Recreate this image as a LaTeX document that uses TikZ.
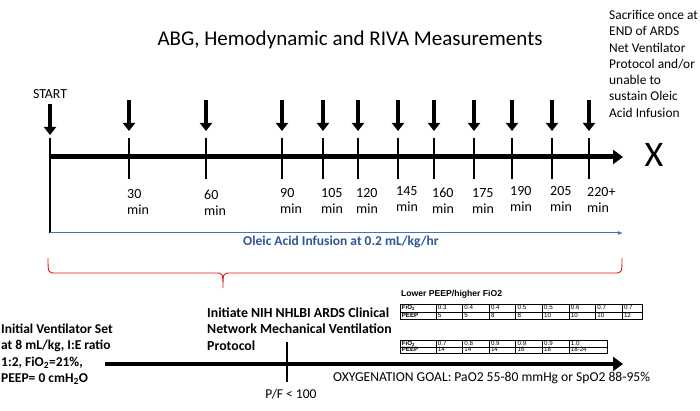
\documentclass[tikz,border=0pt]{standalone}
\usepackage{fontspec}
\setmainfont{Carlito}
\newfontfamily\tabfont{Liberation Sans}
\usetikzlibrary{arrows.meta,positioning,matrix,calc}
\definecolor{infblue}{RGB}{68,114,196}
\definecolor{infdark}{RGB}{47,85,151}
\definecolor{bracered}{RGB}{225,20,20}

\tikzset{
  timemark/.style={line width=4pt,-{Triangle[width=12pt,length=8pt]}},
  tickline/.style={line width=2pt},
  ticklabel/.style={font=\fontsize{14}{16}\selectfont, align=left, anchor=north west, inner sep=0pt},
  boldtext/.style={font=\bfseries\fontsize{13.5}{16.2}\selectfont, align=left, inner sep=0pt},
  cell/.style={draw, line width=0.6pt, font=\tabfont\fontsize{6.2}{7}\selectfont, inner xsep=2pt, text width=22.6pt, text height=4.6pt, text depth=1.2pt, align=left},
}

\begin{document}
\begin{tikzpicture}[x=1pt,y=-1pt]
  \useasboundingbox (0,0) rectangle (700,411);

  \node[anchor=base, font=\fontsize{21}{24}\selectfont] at (350,46) (title) {ABG, Hemodynamic and RIVA Measurements};
  \node[anchor=north west, inner sep=0pt, align=left, font=\fontsize{13.4}{16.3}\selectfont] at (609,10) (sacrifice) {Sacrifice once at\\END of ARDS\\Net Ventilator\\Protocol and/or\\unable to\\sustain Oleic\\Acid Infusion};

  % timeline
  \node[anchor=base, font=\fontsize{13.8}{15}\selectfont] at (50,98.5) (start) {START};
  \coordinate (t0) at (50,157);
  \coordinate (tend) at (623,157);
  \coordinate (s0) at (50,138);
  \coordinate (s1) at (50,233);
  \coordinate (satop) at (50,104);
  \coordinate (sabot) at (50,135);
  \draw[timemark] (satop) -- (sabot);
  \draw[line width=5pt,-{Triangle[width=14pt,length=10pt]}] (t0) -- (tend);
  \draw[line width=1.6pt] (s0) -- (s1);
  \node[font=\fontsize{36}{38}\selectfont, inner sep=0pt] at (654,155) (stop) {X};

  \foreach \i/\x/\lab/\y in {1/129/30/189.5, 2/206/60/189.5, 3/282/90/188, 4/323/105/188,
      5/358/120/188, 6/398/145/186.5, 7/434/160/188, 8/474/175/188.5, 9/512/190/186.5,
      10/552/205/186.5, 11/589/220+/187}{
    \coordinate (atop\i) at (\x,100);
    \coordinate (abot\i) at (\x,131);
    \coordinate (ttop\i) at (\x,138);
    \coordinate (tbot\i) at (\x,179);
    \draw[timemark] (atop\i) -- (abot\i);
    \draw[tickline] (ttop\i) -- (tbot\i);
    \node[ticklabel] at (\x-2,\y) (lab\i) {\lab\\min};
  }

  % infusion
  \coordinate (infend) at (623,233);
  \draw[infblue, line width=1pt, -{Latex[length=5pt,width=4pt]}] (s1) -- (infend);
  \node[anchor=base west, text=infdark, font=\bfseries\fontsize{13.5}{15}\selectfont, inner sep=0pt] at (243,245) (infusion) {Oleic Acid Infusion at 0.2 mL/kg/hr};

  \draw[bracered, line width=0.9pt] (48,258) .. controls (48,273) .. (56,273) -- (215,273)
    .. controls (223,273) .. (223,288) .. controls (223,273) .. (231,273) -- (614,273)
    .. controls (622,273) .. (622,258);

  % ventilation
  \node[boldtext, anchor=north west] at (1,324) (initial) {Initial Ventilator Set\\at 8 mL/kg, I:E ratio\\1:2, FiO\textsubscript{2}=21\%,\\PEEP= 0 cmH\textsubscript{2}O};
  \node[boldtext, anchor=north west, font=\bfseries\fontsize{13.8}{16.3}\selectfont] at (207,307.5) (nih) {Initiate NIH NHLBI ARDS Clinical\\Network Mechanical Ventilation\\Protocol};
  \coordinate (v0) at (105,364);
  \coordinate (vend) at (623,364);
  \coordinate (pftop) at (287,342);
  \coordinate (pfbot) at (287,382);
  \draw[line width=4.3pt,-{Triangle[width=14pt,length=10pt]}] (v0) -- (vend);
  \draw[line width=2pt] (pftop) -- (pfbot);
  \node[anchor=base, font=\fontsize{13.5}{15}\selectfont, inner sep=0pt] at (291,398) (pf) {P/F < 100};
  \node[anchor=base west, font=\fontsize{13.6}{15}\selectfont, inner sep=0pt] at (333,381) (goal) {OXYGENATION GOAL: PaO2 55-80 mmHg or SpO2 88-95\%};

  % PEEP tables
  \node[anchor=south west, font=\tabfont\bfseries\fontsize{8.6}{9}\selectfont, inner sep=0pt] at (401,299) (lowpeep) {Lower PEEP/higher FiO2};
  \matrix (peepA) [matrix of nodes, anchor=north west, column sep=-0.6pt, row sep=-0.6pt,
    nodes={cell, inner ysep=0.9pt},
    column 1/.style={nodes={text width=32pt, font=\tabfont\bfseries\fontsize{6.2}{7}\selectfont}},
    column 9/.style={nodes={text width=16pt}}] at (396,300.5) {
    FiO\textsubscript{2} & 0.3 & 0.4 & 0.4 & 0.5 & 0.5 & 0.6 & 0.7 & 0.7 \\
    PEEP & 5 & 5 & 8 & 8 & 10 & 10 & 10 & 12 \\
  };
  \matrix (peepB) [matrix of nodes, anchor=north west, column sep=-0.6pt, row sep=-0.6pt,
    nodes={cell, inner ysep=0.4pt},
    column 1/.style={nodes={text width=32pt, font=\tabfont\bfseries\fontsize{6.2}{7}\selectfont}},
    column 7/.style={nodes={text width=34pt}}] at (396,336.5) {
    FiO\textsubscript{2} & 0.7 & 0.8 & 0.9 & 0.9 & 0.9 & 1.0 \\
    PEEP & 14 & 14 & 14 & 16 & 18 & 18-24 \\
  };
\end{tikzpicture}
\end{document}
